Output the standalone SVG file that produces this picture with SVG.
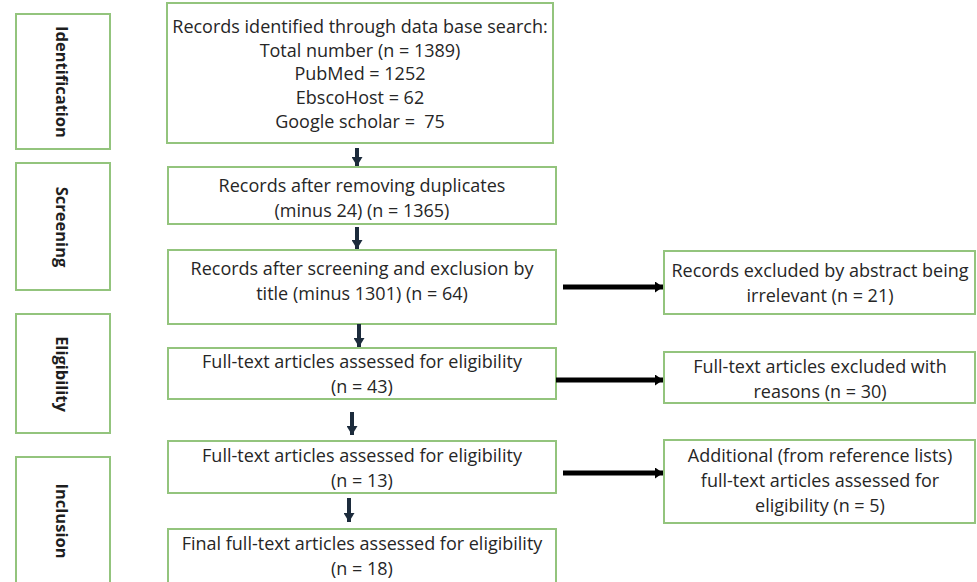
<svg xmlns="http://www.w3.org/2000/svg" width="977" height="582" viewBox="0 0 977 582">
<defs>
<style>
.box{fill:#ffffff;stroke:#93c47d;stroke-width:2}
.t{font-family:"Open Sans","Liberation Sans",sans-serif;font-size:18px;fill:#262626;text-anchor:middle}
.lab{font-family:"Open Sans","Liberation Sans",sans-serif;font-size:16.5px;font-weight:bold;fill:#1e1e1e;text-anchor:middle}
.va{stroke:#1c2b3c;stroke-width:4;fill:none}
.ha{stroke:#000;stroke-width:5;fill:none}
</style>
<marker id="hv" markerUnits="userSpaceOnUse" markerWidth="9" markerHeight="11" refX="9" refY="5.5" orient="auto"><path d="M0,0 L9,5.5 L0,11 z" fill="#1c2b3c"/></marker>
<marker id="hh" markerUnits="userSpaceOnUse" markerWidth="8" markerHeight="11" refX="8" refY="5.5" orient="auto"><path d="M0,0 L8,5.5 L0,11 z" fill="#000"/></marker>
</defs>
<rect width="977" height="582" fill="#ffffff"/>
<g id="lab-identification"><rect class="box" x="16" y="14" width="94" height="135"/><text class="lab" transform="translate(56,82) rotate(90)">Identification</text></g>
<g id="lab-screening"><rect class="box" x="16" y="163" width="94" height="127"/><text class="lab" transform="translate(56,227) rotate(90)">Screening</text></g>
<g id="lab-eligibility"><rect class="box" x="16" y="314" width="94" height="119"/><text class="lab" transform="translate(56,374) rotate(90)">Eligibility</text></g>
<g id="lab-inclusion"><rect class="box" x="16" y="457" width="94" height="130"/><text class="lab" transform="translate(56,521) rotate(90)">Inclusion</text></g>
<g id="n1"><rect class="box" x="167" y="3" width="386" height="140"/>
<text class="t" x="360" y="33">Records identified through data base search:</text>
<text class="t" x="360" y="57">Total number (n = 1389)</text>
<text class="t" x="360" y="80">PubMed = 1252</text>
<text class="t" x="360" y="104">EbscoHost = 62</text>
<text class="t" x="360" y="128">Google scholar =&#160; 75</text></g>
<g id="n2"><rect class="box" x="168" y="167" width="388" height="57"/>
<text class="t" x="362" y="192">Records after removing duplicates</text>
<text class="t" x="362" y="217">(minus 24) (n = 1365)</text></g>
<g id="n3"><rect class="box" x="168" y="250" width="388" height="74"/>
<text class="t" x="362" y="275">Records after screening and exclusion by</text>
<text class="t" x="362" y="300">title (minus 1301) (n = 64)</text></g>
<g id="n4"><rect class="box" x="168" y="348" width="388" height="51"/>
<text class="t" x="362" y="368">Full-text articles assessed for eligibility</text>
<text class="t" x="362" y="393">(n = 43)</text></g>
<g id="n5"><rect class="box" x="168" y="441" width="388" height="52"/>
<text class="t" x="362" y="462">Full-text articles assessed for eligibility</text>
<text class="t" x="362" y="487">(n = 13)</text></g>
<g id="n6"><rect class="box" x="168" y="529" width="388" height="60"/>
<text class="t" x="362" y="550">Final full-text articles assessed for eligibility</text>
<text class="t" x="362" y="575">(n = 18)</text></g>
<g id="r1"><rect class="box" x="664" y="251" width="311" height="63"/>
<text class="t" x="820" y="277">Records excluded by abstract being</text>
<text class="t" x="820" y="302">irrelevant (n = 21)</text></g>
<g id="r2"><rect class="box" x="664" y="352" width="311" height="51"/>
<text class="t" x="820" y="373">Full-text articles excluded with</text>
<text class="t" x="820" y="398">reasons (n = 30)</text></g>
<g id="r3"><rect class="box" x="664" y="440" width="311" height="83"/>
<text class="t" x="820" y="462">Additional (from reference lists)</text>
<text class="t" x="820" y="487">full-text articles assessed for</text>
<text class="t" x="820" y="512">eligibility (n = 5)</text></g>
<g id="connectors">
<line class="va" x1="357" y1="148" x2="357" y2="166" marker-end="url(#hv)"/>
<line class="va" x1="357" y1="227" x2="357" y2="249" marker-end="url(#hv)"/>
<line class="va" x1="359" y1="324" x2="359" y2="347" marker-end="url(#hv)"/>
<line class="va" x1="352" y1="412" x2="352" y2="435" marker-end="url(#hv)"/>
<line class="va" x1="349" y1="498" x2="349" y2="522" marker-end="url(#hv)"/>
<line class="ha" x1="563" y1="287" x2="663" y2="287" marker-end="url(#hh)"/>
<line class="ha" x1="556" y1="380" x2="663" y2="380" marker-end="url(#hh)"/>
<line class="ha" x1="563" y1="473" x2="663" y2="473" marker-end="url(#hh)"/>
</g>
</svg>
